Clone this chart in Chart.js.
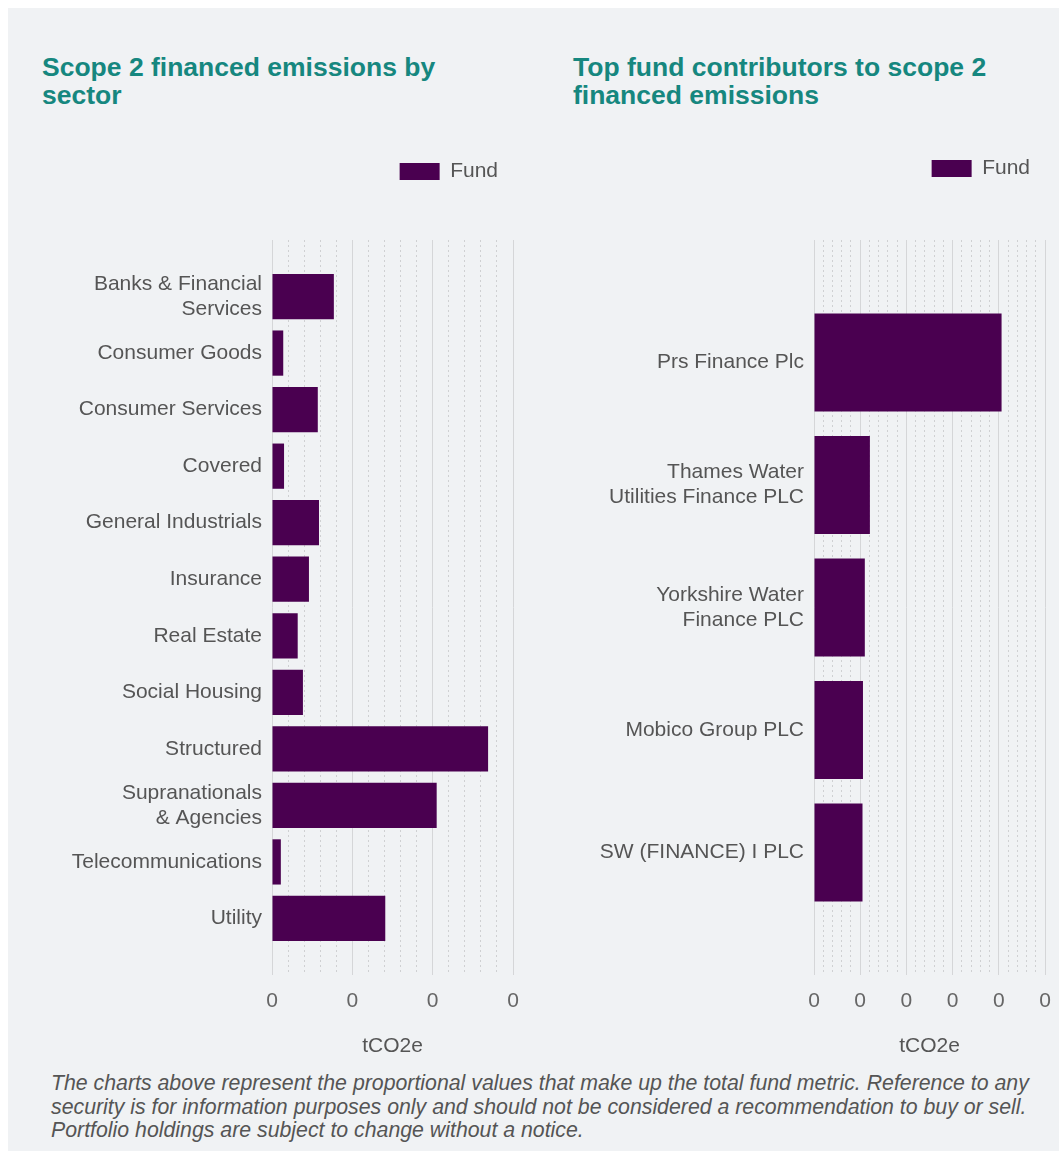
<!DOCTYPE html>
<html>
<head>
<meta charset="utf-8">
<script src="https://cdn.jsdelivr.net/npm/chart.js@4/dist/chart.umd.min.js"></script>
<style>
html,body{margin:0;padding:0;background:#ffffff;}
body{width:1059px;height:1151px;position:relative;overflow:hidden;font-family:'Liberation Sans',Arial,sans-serif;}
#panel{position:absolute;left:8px;top:8px;width:1051px;height:1143px;background:#f0f2f4;}
.title{position:absolute;margin:0;font-size:26.5px;line-height:28px;font-weight:bold;color:#16877f;white-space:nowrap;}
#t1{left:42px;top:53px;}
#t2{left:573px;top:53px;}
canvas{position:absolute;}
#c1{left:20px;top:146px;}
#c2{left:560px;top:143px;}
.note{position:absolute;left:51px;top:1072px;margin:0;font-style:italic;font-size:21.3px;line-height:23.5px;color:#555555;white-space:nowrap;}
</style>
</head>
<body>
<div id="panel"></div>
<h2 class="title" id="t1">Scope 2 financed emissions by<br>sector</h2>
<h2 class="title" id="t2">Top fund contributors to scope 2<br>financed emissions</h2>
<canvas id="c1" width="510" height="913"></canvas>
<canvas id="c2" width="499" height="916"></canvas>
<p class="note">The charts above represent the proportional values that make up the total fund metric. Reference to any<br>security is for information purposes only and should not be considered a recommendation to buy or sell.<br>Portfolio holdings are subject to change without a notice.</p>
<script>
// ---- data ----
const sectorLabels = [
  ['Banks & Financial', 'Services'],
  'Consumer Goods',
  'Consumer Services',
  'Covered',
  'General Industrials',
  'Insurance',
  'Real Estate',
  'Social Housing',
  'Structured',
  ['Supranationals', '& Agencies'],
  'Telecommunications',
  'Utility'
];
const sectorValues = [0.77, 0.14, 0.57, 0.15, 0.585, 0.46, 0.32, 0.385, 2.69, 2.05, 0.11, 1.41];
const sectorTickLabels = ['0', '0', '0', '0'];

const issuerLabels = [
  'Prs Finance Plc',
  ['Thames Water', 'Utilities Finance PLC'],
  ['Yorkshire Water', 'Finance PLC'],
  'Mobico Group PLC',
  'SW (FINANCE) I PLC'
];
const issuerValues = [4.06, 1.21, 1.10, 1.06, 1.05];
const issuerTickLabels = ['0', '0', '0', '0', '0', '0'];

const seriesName = 'Fund';
const axisTitle = 'tCO2e';

// ---- styling ----
const FONT = "'Liberation Sans', Arial, sans-serif";
const BAR = '#4a0050';
const MAJOR = '#d5d6d8';
const MINOR = '#cfd0d2';

function isMajor(v) { return Math.abs(v - Math.round(v)) < 1e-6; }

function makeChart(id, cats, vals, tickLabels, yWidth, padRight, legendHeight) {
  const labels = [''].concat(cats, ['']);
  const data = [null].concat(vals, [null]);
  const legendMargin = {
    id: 'legendMargin',
    beforeInit(chart) {
      const fit = chart.legend.fit;
      chart.legend.fit = function () { fit.bind(chart.legend)(); this.height = legendHeight; };
    }
  };
  return new Chart(document.getElementById(id), {
    type: 'bar',
    data: {
      labels: labels,
      datasets: [{
        label: seriesName,
        data: data,
        backgroundColor: BAR,
        borderWidth: 0,
        categoryPercentage: 1,
        barPercentage: 0.8
      }]
    },
    options: {
      indexAxis: 'y',
      responsive: false,
      animation: false,
      devicePixelRatio: 1,
      layout: { padding: { left: 0, right: padRight, top: 0, bottom: 0 } },
      plugins: {
        tooltip: { enabled: false },
        legend: {
          position: 'top',
          align: 'end',
          labels: {
            boxWidth: 40, boxHeight: 17, padding: 15,
            color: '#555555',
            font: { family: FONT, size: 21 }
          }
        }
      },
      scales: {
        y: {
          type: 'category',
          offset: false,
          grid: { display: false, drawTicks: false },
          border: { display: false },
          ticks: {
            autoSkip: false, padding: 10, color: '#555555',
            font: { family: FONT, size: 21, lineHeight: 1.2 }
          },
          afterFit(s) { s.width = yWidth; }
        },
        x: {
          type: 'linear',
          min: 0,
          max: tickLabels.length - 1,
          grid: {
            drawTicks: true,
            tickLength: 14,
            tickColor: 'rgba(0,0,0,0)',
            lineWidth: 1,
            color: (ctx) => (ctx.tick && !isMajor(ctx.tick.value)) ? MINOR : MAJOR
          },
          border: {
            display: false,
            dash: (ctx) => (ctx.tick && !isMajor(ctx.tick.value)) ? [2, 3] : []
          },
          ticks: {
            stepSize: 0.2,
            maxTicksLimit: 100,
            autoSkip: false,
            maxRotation: 0,
            padding: 0,
            color: '#666666',
            font: { family: FONT, size: 21 },
            callback: (v) => isMajor(v) ? tickLabels[Math.round(v)] : ''
          },
          title: {
            display: true, text: axisTitle, color: '#555555',
            font: { family: FONT, size: 21 },
            padding: { top: 20, bottom: 0 }
          },
          afterFit(s) { s.height = 84; }
        }
      }
    },
    plugins: [legendMargin]
  });
}

makeChart('c1', sectorLabels, sectorValues, sectorTickLabels, 252, 17, 94);
makeChart('c2', issuerLabels, issuerValues, issuerTickLabels, 254, 14, 97);
</script>
</body>
</html>
